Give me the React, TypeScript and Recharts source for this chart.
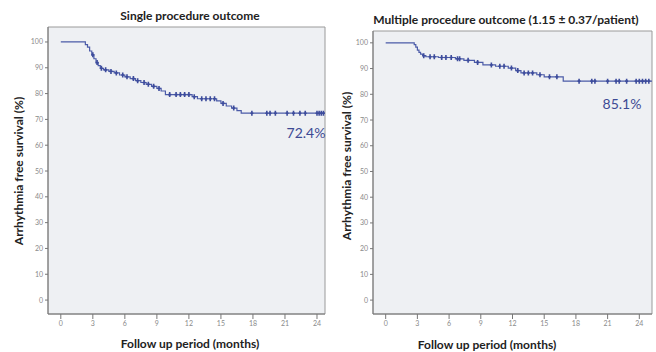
import {
  ComposedChart,
  Line,
  Scatter,
  XAxis,
  YAxis,
  ReferenceArea,
} from 'recharts';

// Kaplan-Meier steps (months, % free of arrhythmia)
const singleTime = [0, 2.3, 2.5, 2.7, 2.9, 3.1, 3.3, 3.5, 3.7, 4.0, 4.5, 5.0, 5.5, 6.0, 6.5, 7.0, 7.5, 8.0, 8.5, 9.0, 9.4, 9.8, 12.3, 12.8, 14.6, 15.0, 15.5, 16.0, 16.5, 16.9, 24.75];
const singleSurv = [100, 99, 98, 96.5, 95, 93.5, 92, 90.8, 89.8, 89.2, 88.6, 88, 87.2, 86.5, 85.8, 85, 84.3, 83.6, 82.8, 82, 81, 79.6, 78.8, 78.0, 77.2, 76.2, 75.2, 74.4, 73.4, 72.4, 72.4];
const singleCensorTime = [3.0, 3.4, 3.8, 4.2, 4.7, 5.2, 5.8, 6.2, 6.8, 7.2, 7.8, 8.2, 8.7, 9.2, 10.2, 10.8, 11.2, 11.6, 12.0, 12.5, 13.2, 13.6, 14.0, 14.4, 15.2, 16.2, 17.9, 19.3, 19.6, 20.1, 21.2, 21.8, 22.4, 22.9, 24.0, 24.2, 24.4, 24.6];
const singleCensorSurv = [95, 92, 89.8, 89.2, 88.6, 88, 87.2, 86.5, 85.8, 85, 84.3, 83.6, 82.8, 82, 79.6, 79.6, 79.6, 79.6, 79.6, 78.8, 78.0, 78.0, 78.0, 78.0, 76.2, 74.4, 72.4, 72.4, 72.4, 72.4, 72.4, 72.4, 72.4, 72.4, 72.4, 72.4, 72.4, 72.4];

const multiTime = [0, 2.7, 2.85, 3.0, 3.15, 3.3, 3.5, 3.8, 5.0, 6.6, 7.4, 8.4, 9.2, 10.4, 11.6, 12.3, 12.8, 14.3, 15.0, 16.8, 25.2];
const multiSurv = [100, 99.3, 98.3, 97.2, 96.3, 95.6, 95, 94.6, 94.3, 93.8, 93.2, 92.4, 91.4, 90.9, 90.2, 89.2, 88.3, 87.6, 86.8, 85.1, 85.1];
const multiCensorTime = [3.6, 4.2, 4.6, 5.3, 5.7, 6.2, 6.8, 7.0, 7.8, 8.7, 10.0, 10.8, 11.2, 11.9, 12.5, 13.1, 13.5, 13.9, 14.6, 15.5, 16.2, 18.3, 19.5, 19.8, 21.0, 21.8, 22.1, 22.8, 23.7, 24.0, 24.3, 24.6, 24.9];
const multiCensorSurv = [95, 94.6, 94.6, 94.3, 94.3, 94.3, 93.8, 93.8, 93.2, 92.4, 91.4, 90.9, 90.9, 90.2, 89.2, 88.3, 88.3, 88.3, 87.6, 86.8, 86.8, 85.1, 85.1, 85.1, 85.1, 85.1, 85.1, 85.1, 85.1, 85.1, 85.1, 85.1, 85.1];

const monthTicks = [0, 3, 6, 9, 12, 15, 18, 21, 24];
const survTicks = [0, 10, 20, 30, 40, 50, 60, 70, 80, 90, 100];

const titles = ['Single procedure outcome', 'Multiple procedure outcome (1.15 \u00b1 0.37/patient)'];
const finalLabels = ['72.4%', '85.1%'];
const xTitle = 'Follow up period (months)';
const yTitle = 'Arrhythmia free survival (%)';

const lineColor = '#4b5ba8';
const markColor = '#3d4c9c';
const plotBg = '#eef0f3';
const frameColor = '#9a9a9a';
const font = 'Lato, "Open Sans", sans-serif';

const zip = (t: number[], s: number[]) => t.map((v, i) => ({ t: v, s: s[i] }));

const CensorMark = (props: any) => {
  const { cx, cy } = props;
  if (cx == null || cy == null) return null;
  return (
    <path
      d={`M${cx},${cy - 2.5}V${cy + 2.5}M${cx - 1.5},${cy}H${cx + 1.5}`}
      stroke={markColor}
      strokeWidth={1.6}
      fill="none"
    />
  );
};

interface KmProps {
  left: number;
  steps: { t: number; s: number }[];
  censors: { t: number; s: number }[];
  xMax: number;
  yMax: number;
  margin: { top: number; right: number; bottom: number; left: number };
}

const KmChart = ({ left, steps, censors, xMax, yMax, margin }: KmProps) => (
  <div style={{ position: 'absolute', left, top: 0 }}>
    <ComposedChart width={330} height={352} margin={margin}>
      <XAxis
        dataKey="t"
        type="number"
        domain={[-1.2, xMax]}
        ticks={monthTicks}
        allowDataOverflow
        height={30}
        tick={{ fill: '#8a8a8a', fontSize: 7, fontFamily: font }}
        tickSize={5}
        tickLine={{ stroke: '#777' }}
        axisLine={{ stroke: '#777' }}
      />
      <YAxis
        dataKey="s"
        type="number"
        domain={[-5.4, yMax]}
        ticks={survTicks}
        allowDataOverflow
        width={40}
        tick={{ fill: '#8a8a8a', fontSize: 7, fontFamily: font }}
        tickSize={3}
        tickLine={{ stroke: '#777' }}
        axisLine={{ stroke: '#777' }}
      />
      <ReferenceArea
        x1={-1.2}
        x2={xMax}
        y1={-5.4}
        y2={yMax}
        fill={plotBg}
        fillOpacity={1}
        stroke={frameColor}
      />
      <Line
        data={steps}
        dataKey="s"
        type="stepAfter"
        stroke={lineColor}
        strokeWidth={1.2}
        dot={false}
        isAnimationActive={false}
      />
      <Scatter data={censors} dataKey="s" shape={CensorMark} isAnimationActive={false} />
    </ComposedChart>
  </div>
);

const textBase = {
  position: 'absolute' as const,
  fontFamily: font,
  whiteSpace: 'nowrap' as const,
  transform: 'translate(-50%, -50%)',
};

export default function App() {
  return (
    <div
      style={{
        position: 'absolute',
        left: 0,
        top: 0,
        width: 656,
        height: 352,
        background: '#fff',
        overflow: 'hidden',
      }}
    >
      <KmChart
        left={0}
        steps={zip(singleTime, singleSurv)}
        censors={zip(singleCensorTime, singleCensorSurv)}
        xMax={24.75}
        yMax={105.8}
        margin={{ top: 27, right: 5, bottom: 8, left: 8 }}
      />
      <KmChart
        left={326}
        steps={zip(multiTime, multiSurv)}
        censors={zip(multiCensorTime, multiCensorSurv)}
        xMax={25.2}
        yMax={104.6}
        margin={{ top: 31, right: 4, bottom: 8, left: 7 }}
      />

      <div style={{ ...textBase, left: 190, top: 15, fontSize: 12, fontWeight: 700, color: '#222' }}>{titles[0]}</div>
      <div style={{ ...textBase, left: 506, top: 19, fontSize: 12, fontWeight: 700, color: '#222' }}>{titles[1]}</div>

      <div style={{ ...textBase, left: 190, top: 343, fontSize: 12, fontWeight: 700, color: '#222' }}>{xTitle}</div>
      <div style={{ ...textBase, left: 487, top: 344, fontSize: 12, fontWeight: 700, color: '#222' }}>{xTitle}</div>

      <div style={{ ...textBase, left: 18, top: 171, fontSize: 12, fontWeight: 700, color: '#222', transform: 'translate(-50%, -50%) rotate(-90deg)' }}>{yTitle}</div>
      <div style={{ ...textBase, left: 346, top: 166, fontSize: 12, fontWeight: 700, color: '#222', transform: 'translate(-50%, -50%) rotate(-90deg)' }}>{yTitle}</div>

      <div style={{ ...textBase, left: 306, top: 132, fontSize: 14, color: '#3d4a94' }}>{finalLabels[0]}</div>
      <div style={{ ...textBase, left: 622, top: 103, fontSize: 14, color: '#3d4a94' }}>{finalLabels[1]}</div>
    </div>
  );
}
